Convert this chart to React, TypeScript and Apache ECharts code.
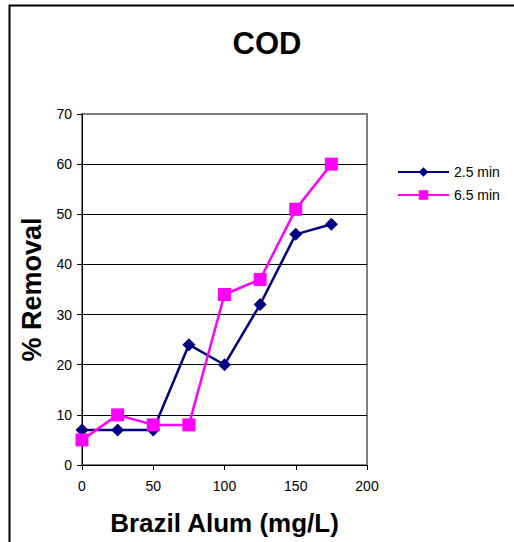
import React, { useEffect, useRef } from "react";
import * as echarts from "echarts";

const doses = [0, 25, 50, 75, 100, 125, 150, 175];
const removal25 = [7, 7, 7, 24, 20, 32, 46, 48];
const removal65 = [5, 10, 8, 8, 34, 37, 51, 60];
const seriesNames = ["2.5 min", "6.5 min"];
const titleText = "COD";
const xName = "Brazil Alum (mg/L)";
const yName = "% Removal";

const FONT = "'Liberation Sans', Arial, sans-serif";

export default function App() {
  const ref = useRef<HTMLDivElement>(null);
  useEffect(() => {
    document.body.style.margin = "0";
    const chart = echarts.init(ref.current!, null, { renderer: "svg" });
    chart.setOption({
      animation: false,
      backgroundColor: "#fff",
      textStyle: { fontFamily: FONT },
      title: {
        text: titleText,
        left: 262,
        textAlign: "center",
        top: 23,
        textStyle: { fontSize: 31, fontWeight: "bold", color: "#000", fontFamily: FONT },
      },
      graphic: [
        {
          type: "rect",
          shape: { x: 9.5, y: 5.5, width: 530, height: 560 },
          style: { fill: "none", stroke: "#000", lineWidth: 2 },
          z: 100,
        },
      ],
      legend: {
        orient: "vertical",
        left: 392,
        top: 160,
        itemWidth: 51,
        itemHeight: 12,
        itemGap: 9,
        textStyle: { fontSize: 14, color: "#000", fontFamily: FONT },
        data: seriesNames,
      },
      grid: {
        left: 82,
        top: 114,
        width: 285,
        height: 351,
        show: true,
        borderColor: "#808080",
        borderWidth: 2,
        backgroundColor: "#fff",
      },
      xAxis: {
        type: "value",
        min: 0,
        max: 200,
        interval: 50,
        name: xName,
        nameLocation: "middle",
        nameGap: 45,
        nameTextStyle: { fontSize: 26, fontWeight: "bold", color: "#000", fontFamily: FONT },
        axisLine: { show: true, onZero: false, lineStyle: { color: "#000", width: 1 } },
        axisTick: { show: true, inside: false, length: 5, lineStyle: { color: "#000" } },
        axisLabel: { fontSize: 14, color: "#000", margin: 14, fontFamily: FONT },
        splitLine: { show: false },
      },
      yAxis: {
        type: "value",
        min: 0,
        max: 70,
        interval: 10,
        name: yName,
        nameLocation: "middle",
        nameGap: 37,
        nameTextStyle: { fontSize: 27, fontWeight: "bold", color: "#000", fontFamily: FONT },
        axisLine: { show: true, onZero: false, lineStyle: { color: "#000", width: 1 } },
        axisTick: { show: true, inside: false, length: 5, lineStyle: { color: "#000" } },
        axisLabel: { fontSize: 14, color: "#000", margin: 10, fontFamily: FONT },
        splitLine: {
          show: true,
          lineStyle: {
            color: ["#000", "#000", "#000", "#000", "#000", "#000", "#000", "#808080"],
            width: 1,
          },
        },
      },
      series: [
        {
          name: seriesNames[0],
          type: "line",
          data: doses.map((d, i) => [d, removal25[i]]),
          symbol: "diamond",
          symbolSize: 13,
          itemStyle: { color: "#000080" },
          lineStyle: { color: "#000080", width: 2.5 },
          z: 3,
        },
        {
          name: seriesNames[1],
          type: "line",
          data: doses.map((d, i) => [d, removal65[i]]),
          symbol: "rect",
          symbolSize: 13,
          itemStyle: { color: "#FF00FF" },
          lineStyle: { color: "#FF00FF", width: 2.5 },
          z: 4,
        },
      ],
    });
    return () => chart.dispose();
  }, []);
  return <div ref={ref} style={{ width: 514, height: 542 }} />;
}
